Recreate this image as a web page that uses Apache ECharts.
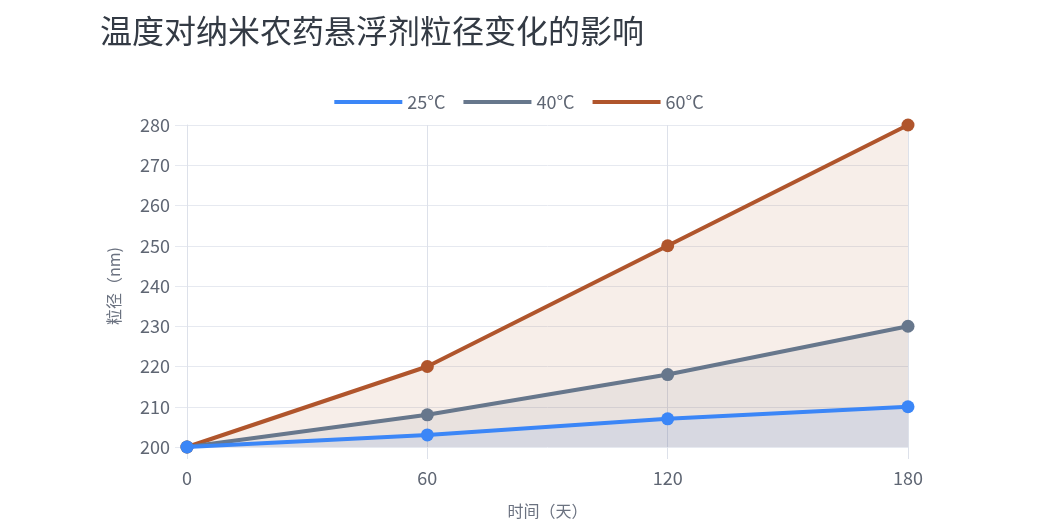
<!DOCTYPE html>
<html><head><meta charset="utf-8">
<script src="https://cdn.jsdelivr.net/npm/echarts@6/dist/echarts.min.js"></script>
<style>html,body{margin:0;padding:0;background:#fff;overflow:hidden}#c{width:1038px;height:525px}</style>
</head><body><div id="c"></div>
<script>
const days = [0, 60, 120, 180];
const seriesNames = ['25°C', '40°C', '60°C'];
const t25 = [200, 203, 207, 210];
const t40 = [200, 208, 218, 230];
const t60 = [200, 220, 250, 280];
const yTicks = [200, 210, 220, 230, 240, 250, 260, 270, 280];
const colors = ['#3b86f7', '#67778c', '#b0552c'];

const font = 'Noto Sans CJK SC';
const allVals = [t25, t40, t60];
const chart = echarts.init(document.getElementById('c'));
chart.setOption({
  textStyle: {fontFamily: font},
  title: {text: '温度对纳米农药悬浮剂粒径变化的影响', left: 95, top: 10,
    textStyle: {fontFamily: font, fontSize: 32, fontWeight: 'normal', color: '#333a44'}},
  legend: {top: 88, left: 'center', itemWidth: 68, itemHeight: 4, itemGap: 18,
    icon: 'rect',
    textStyle: {fontFamily: font, fontSize: 18, color: '#5f6673'},
    data: seriesNames},
  grid: {left: 187, right: 130, top: 125, bottom: 78, outerBoundsMode: 'none', containLabel: false},
  xAxis: {type: 'value', min: days[0], max: days[days.length - 1], interval: 60,
    name: '时间（天）', nameLocation: 'middle', nameGap: 56,
    nameTextStyle: {fontFamily: font, fontSize: 16, color: '#6b7280'},
    axisLine: {show: false},
    axisTick: {show: true, length: 12, lineStyle: {color: '#dde1ea'}},
    axisLabel: {fontSize: 18, color: '#5f6673', margin: 22},
    splitLine: {show: true, lineStyle: {color: '#dde1ea'}}},
  yAxis: {type: 'value', min: yTicks[0], max: yTicks[yTicks.length - 1], interval: 10,
    name: '粒径（nm)', nameLocation: 'middle', nameGap: 65,
    nameTextStyle: {fontFamily: font, fontSize: 16, color: '#6b7280'},
    axisLine: {show: true, lineStyle: {color: '#dde1ea'}},
    axisTick: {show: true, length: 12, lineStyle: {color: '#e6e9f0'}},
    axisLabel: {fontSize: 18, color: '#5f6673', margin: 17},
    splitLine: {show: true, lineStyle: {color: '#e6e9f0'}}},
  series: seriesNames.map((n, i) => ({
    name: n, type: 'line',
    data: days.map((d, j) => [d, allVals[i][j]]),
    symbol: 'circle', symbolSize: 13,
    lineStyle: {width: 4, color: colors[i]},
    itemStyle: {color: colors[i]},
    areaStyle: {color: colors[i], opacity: 0.1},
    z: 3 + (2 - i)
  }))
});
</script></body></html>
